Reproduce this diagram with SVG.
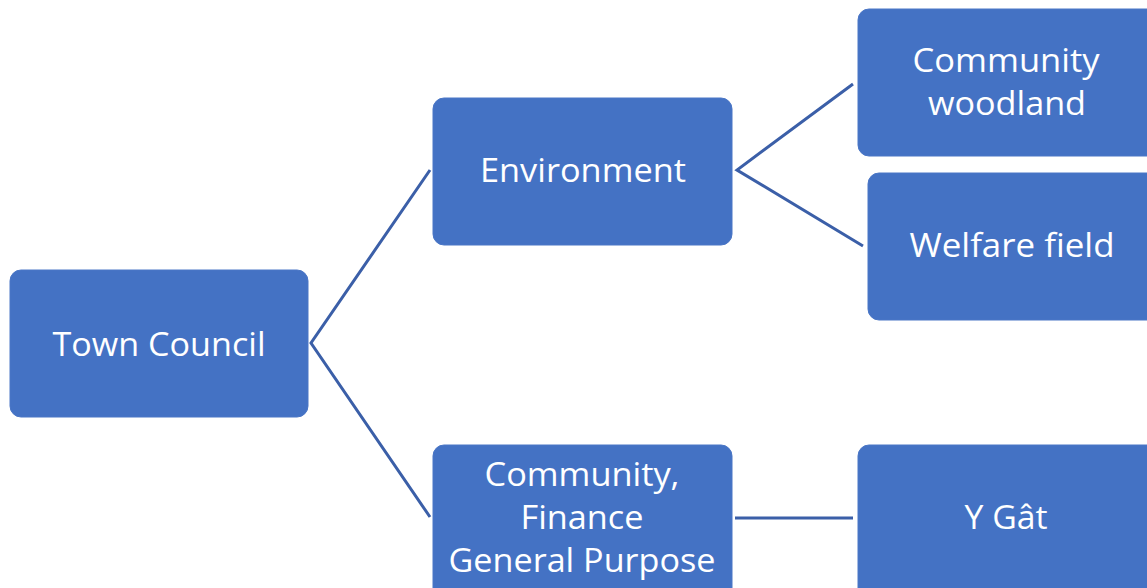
<svg xmlns="http://www.w3.org/2000/svg" width="1147" height="588" viewBox="0 0 1147 588">
<style>
.box{fill:#4472C4;stroke:#4A76C6;stroke-width:1}
.lbl{font-family:"Open Sans","Noto Sans","Liberation Sans",sans-serif;font-size:32px;fill:#FFFFFF;text-anchor:middle}
.con{stroke:#3B5FA8;stroke-width:3;fill:none}
</style>
<rect width="1147" height="588" fill="#FFFFFF"/>
<g id="connectors">
<polyline class="con" points="430,170 311,343 430,517"/>
<polyline class="con" points="853,84 737,170 863,246"/>
<line class="con" x1="735" y1="518" x2="853" y2="518"/>
</g>
<g id="town-council">
<rect class="box" x="10" y="270" width="298" height="147" rx="11"/>
<text class="lbl" x="159" y="356" textLength="213" lengthAdjust="spacingAndGlyphs">Town Council</text>
</g>
<g id="environment">
<rect class="box" x="433" y="98" width="299" height="147" rx="11"/>
<text class="lbl" x="583" y="182" textLength="206" lengthAdjust="spacingAndGlyphs">Environment</text>
</g>
<g id="community-finance">
<rect class="box" x="433" y="445" width="299" height="155" rx="11"/>
<text class="lbl" x="582" y="486" textLength="195" lengthAdjust="spacingAndGlyphs">Community,</text>
<text class="lbl" x="582" y="529" textLength="123" lengthAdjust="spacingAndGlyphs">Finance</text>
<text class="lbl" x="582" y="572" textLength="267" lengthAdjust="spacingAndGlyphs">General Purpose</text>
</g>
<g id="community-woodland">
<rect class="box" x="858" y="9" width="300" height="147" rx="11"/>
<text class="lbl" x="1006" y="72" textLength="187" lengthAdjust="spacingAndGlyphs">Community</text>
<text class="lbl" x="1007" y="115" textLength="158" lengthAdjust="spacingAndGlyphs">woodland</text>
</g>
<g id="welfare-field">
<rect class="box" x="868" y="173" width="300" height="147" rx="11"/>
<text class="lbl" x="1012" y="257" textLength="205" lengthAdjust="spacingAndGlyphs">Welfare field</text>
</g>
<g id="y-gat">
<rect class="box" x="858" y="445" width="300" height="155" rx="11"/>
<text class="lbl" x="1006" y="529" textLength="83" lengthAdjust="spacingAndGlyphs">Y Gât</text>
</g>
</svg>
